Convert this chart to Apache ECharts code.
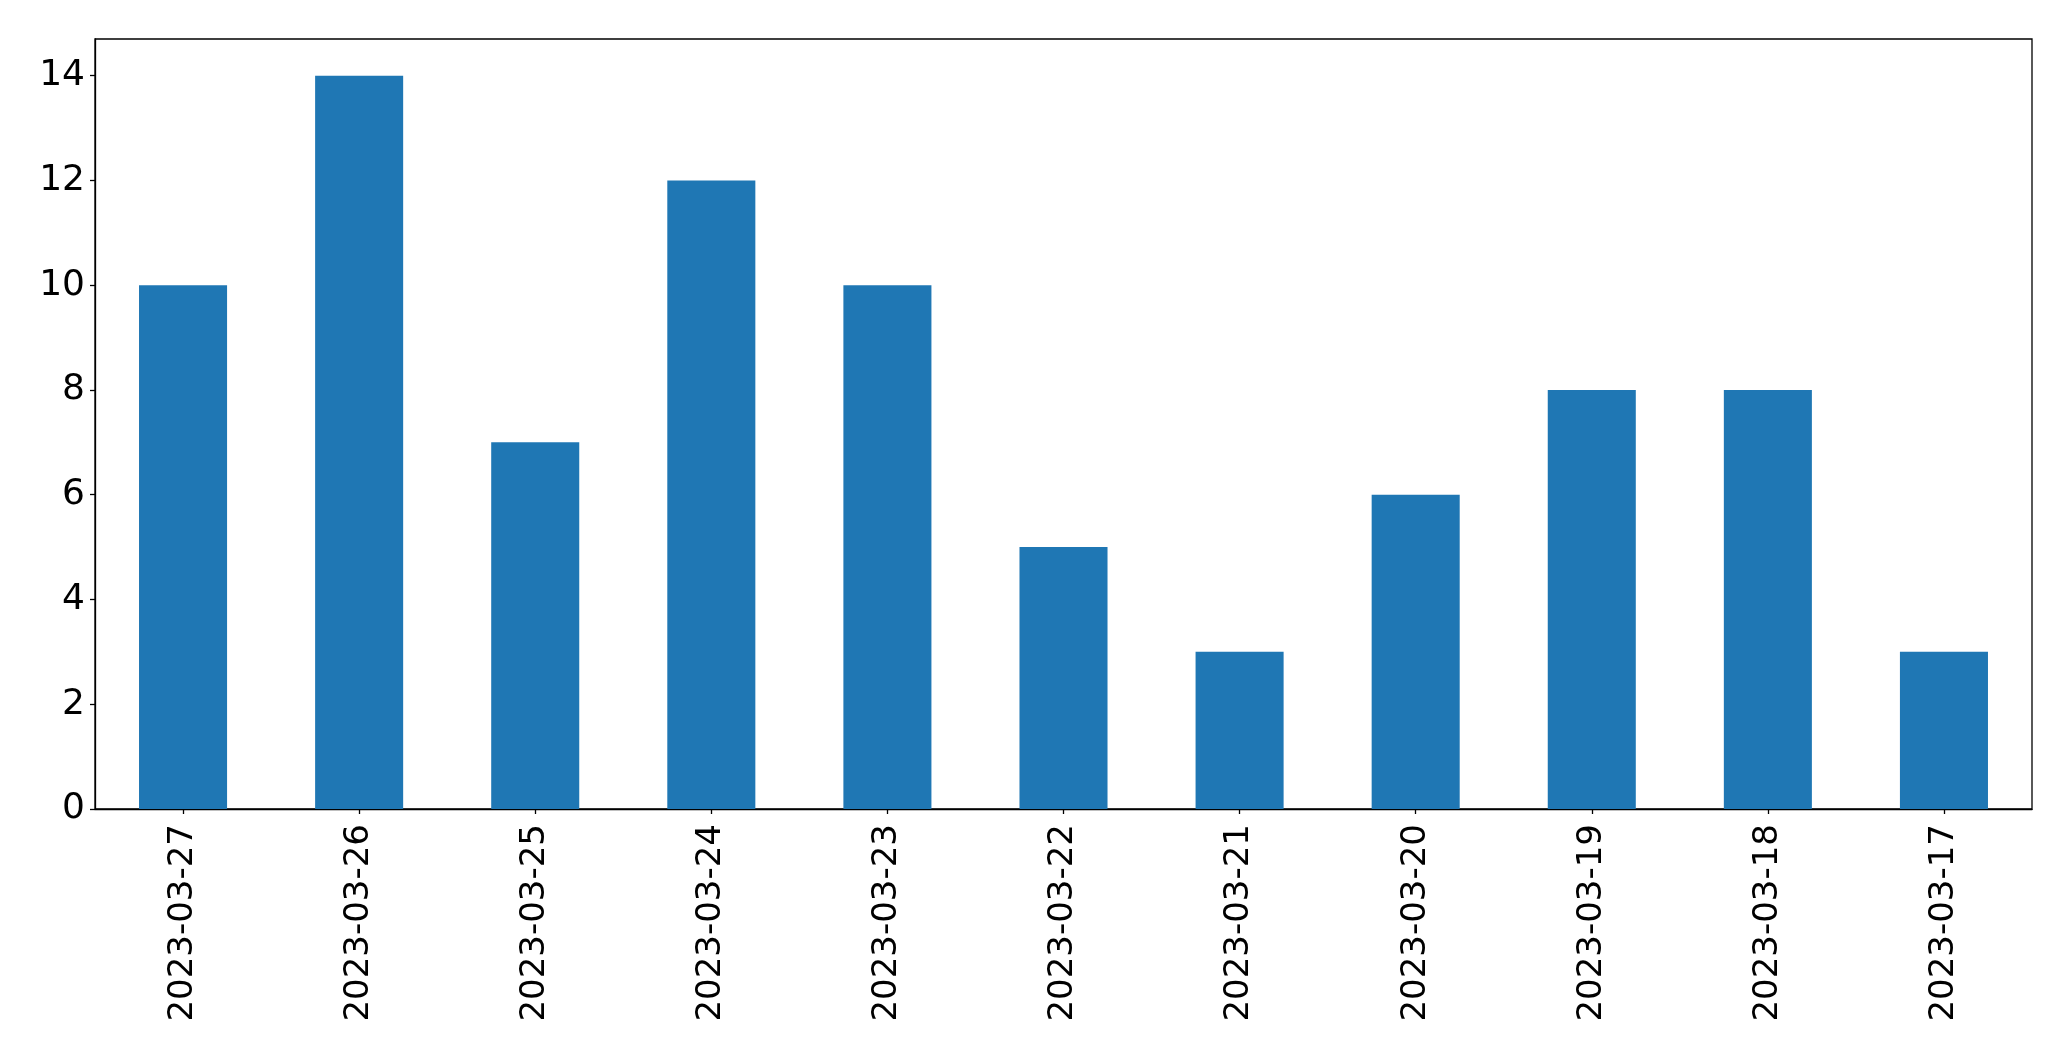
<!DOCTYPE html>
<html>
<head>
<meta charset="utf-8">
<script src="https://cdn.jsdelivr.net/npm/echarts@6/dist/echarts.min.js"></script>
<style>
html,body{margin:0;padding:0;background:#fff;}
#c{width:2071px;height:1061px;}
</style>
</head>
<body>
<div id="c"></div>
<script>
const categories = ["2023-03-27","2023-03-26","2023-03-25","2023-03-24","2023-03-23","2023-03-22","2023-03-21","2023-03-20","2023-03-19","2023-03-18","2023-03-17"];
const values = [10,14,7,12,10,5,3,6,8,8,3];
const yTicks = [0,2,4,6,8,10,12,14];

const chart = echarts.init(document.getElementById('c'), null, {renderer:'canvas'});
chart.setOption({
  animation:false,
  backgroundColor:'#fff',
  grid:{left:95,top:39,width:1937,height:770,show:true,borderColor:'#000',borderWidth:1.3,backgroundColor:'transparent'},
  xAxis:{
    type:'category',
    data:categories,
    axisLine:{show:true,lineStyle:{color:'#000',width:1.3}},
    axisTick:{show:true,alignWithLabel:true,length:5,lineStyle:{color:'#000',width:1.3}},
    axisLabel:{rotate:90,margin:15,fontFamily:'DejaVu Sans',fontSize:34,color:'#000',interval:0}
  },
  yAxis:{
    type:'value',
    min:0,max:14.7,interval:2,
    axisLine:{show:true,lineStyle:{color:'#000',width:1.3}},
    axisTick:{show:true,length:5,lineStyle:{color:'#000',width:1.3},
      customValues:yTicks},
    splitLine:{show:false},
    axisLabel:{margin:10,fontFamily:'DejaVu Sans',fontSize:36,color:'#000',
      customValues:yTicks}
  },
  series:[{type:'bar',data:values,barWidth:'50%',itemStyle:{color:'#1f77b4'}}]
});
</script>
</body>
</html>
